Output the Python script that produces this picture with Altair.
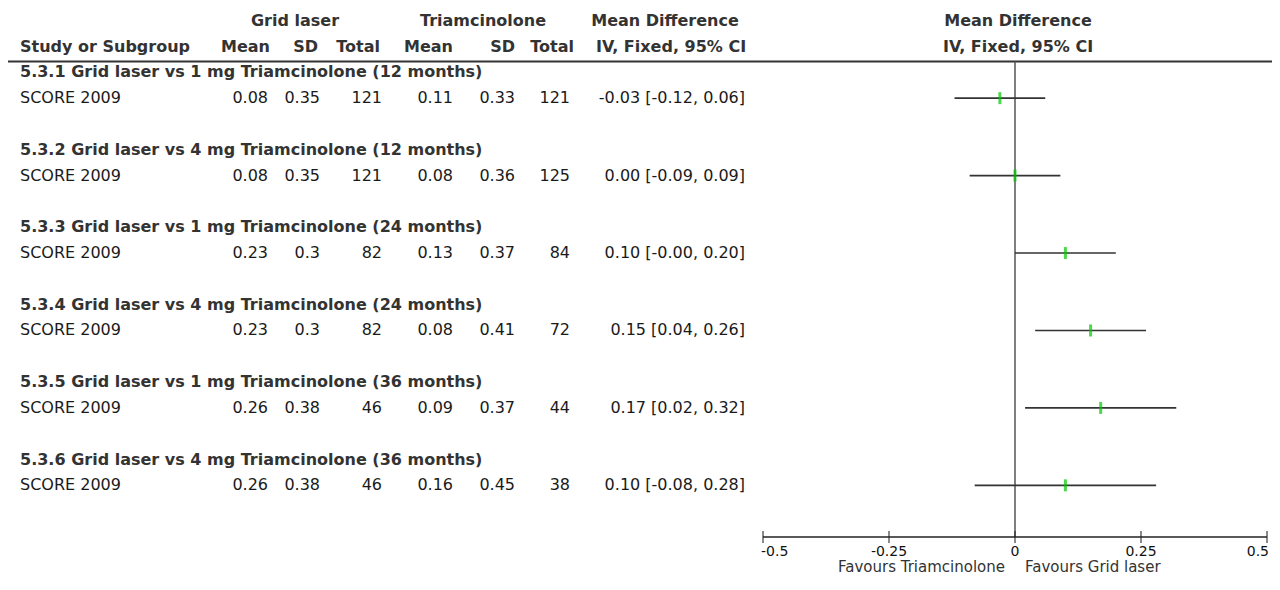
import altair as alt
import pandas as pd

# ---------------- data ----------------
subgroups = [
    "5.3.1 Grid laser vs 1 mg Triamcinolone (12 months)",
    "5.3.2 Grid laser vs 4 mg Triamcinolone (12 months)",
    "5.3.3 Grid laser vs 1 mg Triamcinolone (24 months)",
    "5.3.4 Grid laser vs 4 mg Triamcinolone (24 months)",
    "5.3.5 Grid laser vs 1 mg Triamcinolone (36 months)",
    "5.3.6 Grid laser vs 4 mg Triamcinolone (36 months)",
]
studies = ["SCORE 2009"] * 6
grid_mean = [0.08, 0.08, 0.23, 0.23, 0.26, 0.26]
grid_sd = [0.35, 0.35, 0.3, 0.3, 0.38, 0.38]
grid_n = [121, 121, 82, 82, 46, 46]
tri_mean = [0.11, 0.08, 0.13, 0.08, 0.09, 0.16]
tri_sd = [0.33, 0.36, 0.37, 0.41, 0.37, 0.45]
tri_n = [121, 125, 84, 72, 44, 38]
md = [-0.03, 0.00, 0.10, 0.15, 0.17, 0.10]
ci_low = [-0.12, -0.09, -0.0, 0.04, 0.02, -0.08]
ci_high = [0.06, 0.09, 0.20, 0.26, 0.32, 0.28]

header_top = ["Grid laser", "Triamcinolone", "Mean Difference", "Mean Difference"]
header_sub = ["Study or Subgroup", "Mean", "SD", "Total", "Mean", "SD", "Total",
              "IV, Fixed, 95% CI", "IV, Fixed, 95% CI"]
tick_values = [-0.5, -0.25, 0, 0.25, 0.5]
tick_labels = ["-0.5", "-0.25", "0", "0.25", "0.5"]
favours = ["Favours Triamcinolone", "Favours Grid laser"]

# ---------------- tables ----------------
n = len(studies)
AXIS_ROW = 18
SEP_ROW = -0.42

study_df = pd.DataFrame({
    "row": [3 * i + 1 for i in range(n)],
    "study": studies,
    "gm": [str(v) for v in grid_mean],
    "gsd": [str(v) for v in grid_sd],
    "gn": [str(v) for v in grid_n],
    "tm": [str(v) for v in tri_mean],
    "tsd": [str(v) for v in tri_sd],
    "tn": [str(v) for v in tri_n],
    "md": md,
    "lo": ci_low,
    "hi": ci_high,
    "mdtxt": [f"{m:.2f} [{l:.2f}, {h:.2f}]" for m, l, h in zip(md, ci_low, ci_high)],
})
group_df = pd.DataFrame({"row": [3 * i for i in range(n)], "grp": subgroups})
tick_df = pd.DataFrame({"v": tick_values, "lab": tick_labels, "row": [AXIS_ROW] * len(tick_values)})
axis_df = pd.DataFrame({"x1": [min(tick_values)], "x2": [max(tick_values)], "row": [AXIS_ROW]})
zero_df = pd.DataFrame({"x": [0.0], "r1": [SEP_ROW], "r2": [AXIS_ROW]})
fav_df = pd.DataFrame({"x": [0.0, 0.0], "row": [AXIS_ROW, AXIS_ROW], "t": favours})

FONT = "DejaVu Sans"
OFF = 8  # page margin
REG = 16
BOLD = 16

yscale = alt.Scale(domain=[-2, 18], range=[20.7 - OFF, 537 - OFF], nice=False, zero=False)
xscale = alt.Scale(domain=[-0.5, 0.5], range=[763 - OFF, 1267 - OFF], nice=False, zero=False)


def Y(field):
    return alt.Y(field, type="quantitative", scale=yscale, axis=None)


def X(field):
    return alt.X(field, type="quantitative", scale=xscale, axis=None)


def col_text(field, xpix, align="right", size=REG, color="#1a1a1a"):
    return alt.Chart(study_df).mark_text(
        align=align, baseline="middle", font=FONT, fontSize=size, color=color
    ).encode(x=alt.value(xpix - OFF), y=Y("row:Q"), text=alt.Text(f"{field}:N"))


def head(text, xpix, row, align="center"):
    d = pd.DataFrame({"row": [row], "t": [text]})
    return alt.Chart(d).mark_text(
        align=align, baseline="middle", font=FONT, fontSize=BOLD, fontWeight="bold", color="#333"
    ).encode(x=alt.value(xpix - OFF), y=Y("row:Q"), text="t:N")


layers = []
# headers
top_x = [295, 483, 665, 1018]
for t, xp in zip(header_top, top_x):
    layers.append(head(t, xp, -2))
sub_pos = [(20, "left"), (270, "right"), (318, "right"), (380, "right"), (453, "right"),
           (515, "right"), (574, "right"), (671, "center"), (1018, "center")]
for t, (xp, al) in zip(header_sub, sub_pos):
    layers.append(head(t, xp, -1, al))

# separator line
layers.append(alt.Chart(zero_df).mark_rule(color="#333", strokeWidth=2).encode(
    x=alt.value(0), x2=alt.value(1280), y=Y("r1:Q")))

# subgroup titles
layers.append(alt.Chart(group_df).mark_text(
    align="left", baseline="middle", font=FONT, fontSize=BOLD, fontWeight="bold", color="#333"
).encode(x=alt.value(20 - OFF), y=Y("row:Q"), text="grp:N"))

# study rows
layers.append(col_text("study", 20, align="left"))
for f, xp in [("gm", 268), ("gsd", 320), ("gn", 382), ("tm", 453), ("tsd", 515), ("tn", 570), ("mdtxt", 745)]:
    layers.append(col_text(f, xp))

# zero line
layers.append(alt.Chart(zero_df).mark_rule(color="#555", strokeWidth=1.5).encode(
    x=X("x:Q"), y=Y("r1:Q"), y2="r2:Q"))

# CI lines
layers.append(alt.Chart(study_df).mark_rule(color="#333", strokeWidth=1.6).encode(
    x=X("lo:Q"), x2="hi:Q", y=Y("row:Q")))
# point estimates
layers.append(alt.Chart(study_df).mark_tick(
    orient="vertical", size=12, thickness=3, color="#00c800"
).encode(x=X("md:Q"), y=Y("row:Q")))

# bottom axis
layers.append(alt.Chart(axis_df).mark_rule(color="#222", strokeWidth=1.5).encode(
    x=X("x1:Q"), x2="x2:Q", y=Y("row:Q")))
layers.append(alt.Chart(tick_df).mark_tick(
    orient="vertical", size=12, thickness=1.5, color="#222"
).encode(x=X("v:Q"), y=Y("row:Q")))
lab_common = dict(baseline="middle", font=FONT, fontSize=14, color="#111", dy=15)
layers.append(alt.Chart(tick_df).transform_filter("datum.v == -0.5").mark_text(
    align="left", dx=-2, **lab_common
).encode(x=X("v:Q"), y=Y("row:Q"), text="lab:N"))
layers.append(alt.Chart(tick_df).transform_filter("datum.v == 0.5").mark_text(
    align="right", dx=2, **lab_common
).encode(x=X("v:Q"), y=Y("row:Q"), text="lab:N"))
layers.append(alt.Chart(tick_df).transform_filter("datum.v > -0.5 && datum.v < 0.5").mark_text(
    align="center", **lab_common
).encode(x=X("v:Q"), y=Y("row:Q"), text="lab:N"))

# favours labels
fav_common = dict(baseline="middle", font=FONT, fontSize=15, color="#333", dy=30)
layers.append(alt.Chart(fav_df).transform_filter(f"datum.t == '{favours[0]}'").mark_text(
    align="right", dx=-10, **fav_common).encode(x=X("x:Q"), y=Y("row:Q"), text="t:N"))
layers.append(alt.Chart(fav_df).transform_filter(f"datum.t == '{favours[1]}'").mark_text(
    align="left", dx=10, **fav_common).encode(x=X("x:Q"), y=Y("row:Q"), text="t:N"))

chart = alt.layer(*layers).properties(
    width=1264, height=569, padding=0, autosize=alt.AutoSizeParams(type="none")
).configure_view(stroke=None)

chart.save("out.html", embed_options={"renderer": "svg", "actions": False})
